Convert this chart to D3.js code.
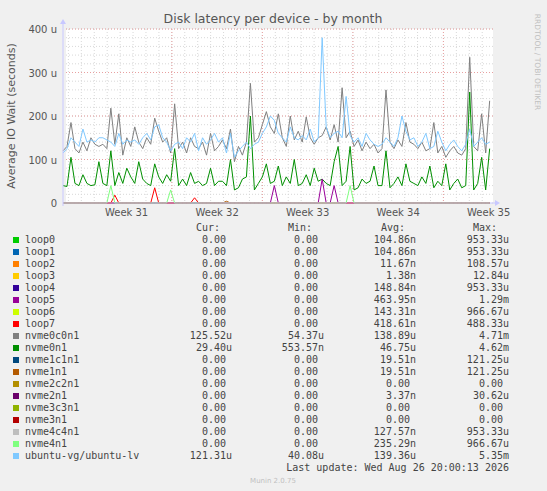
<!DOCTYPE html>
<html>
<head>
<meta charset="utf-8">
<script src="https://cdn.jsdelivr.net/npm/d3@7"></script>
<style>
  body { margin: 0; background: #f0f0f0; }
  text { font-family: "DejaVu Sans", sans-serif; }
  .mono { font-family: "DejaVu Sans Mono", monospace; font-size: 10px; fill: #444; }
</style>
</head>
<body>
<div class="canva"></div>
<script>
// latency samples, in microseconds, one every ~7.4 hours starting Jul 25
const startTime = new Date(2026, 6, 25, 14, 0);
const stepHours = 7.4;

const nvme0c0n1 = [
  120,130,185,125,115,140,120,150,135,130,
  135,125,218,135,205,110,150,130,175,140,
  125,150,135,195,165,140,150,115,228,125,
  140,115,150,130,125,140,110,160,120,130,
  145,125,170,95,130,110,140,275,140,150,
  180,210,175,160,205,150,130,200,145,165,
  140,198,150,135,150,155,175,145,180,140,
  265,150,165,130,145,120,140,125,135,115,
  125,260,140,125,145,130,185,140,135,125,
  140,120,125,185,115,130,105,120,130,115,
  110,125,335,130,120,205,115,235];

const ubuntuLv = [
  115,125,150,140,130,170,140,145,140,150,
  150,145,140,130,160,135,145,140,145,135,
  150,160,145,175,180,150,140,120,135,140,
  125,150,140,160,120,150,135,145,160,140,
  150,115,160,105,120,130,140,125,135,140,
  160,175,200,190,160,150,140,175,150,145,
  155,145,170,140,150,380,175,150,160,165,
  150,245,155,140,150,130,160,145,135,130,
  135,150,140,130,150,200,165,145,150,130,
  140,160,125,130,165,140,120,135,145,130,
  120,135,170,130,140,150,135,140];

const nvme0n1 = [
  40,38,105,45,40,65,45,40,42,95,
  45,40,120,40,70,45,80,60,45,95,
  55,45,40,90,60,45,65,50,125,40,
  55,40,70,45,50,40,45,80,40,50,
  50,40,100,30,35,55,60,200,30,45,
  60,90,45,50,85,40,60,45,100,40,
  45,65,40,80,50,55,45,40,95,130,
  40,50,130,30,35,55,45,50,85,40,
  40,120,35,45,60,40,90,50,45,40,
  60,45,85,35,50,40,90,30,45,55,
  35,40,255,30,45,105,30,125];

// sparse spikes: [sample index, value]
const loop7Spikes = [[13, 18], [23, 35], [33, 12]];
const loop5Spikes = [[53, 40], [65, 55], [68, 40]];
const nvme4n1Spikes = [[12, 40], [27, 30], [72, 40]];
const nvme1n1Spikes = [[41, 4]];

const names = ["loop0","loop1","loop2","loop3","loop4","loop5","loop6","loop7",
  "nvme0c0n1","nvme0n1","nvme1c1n1","nvme1n1","nvme2c2n1","nvme2n1",
  "nvme3c3n1","nvme3n1","nvme4c4n1","nvme4n1","ubuntu-vg/ubuntu-lv"];
const colors = ["#00cc00","#0066b3","#ff8000","#ffcc00","#330099","#990099","#ccff00","#ff0000",
  "#808080","#008f00","#00487d","#b35a00","#b38f00","#6b006b","#8fb300","#b30000",
  "#bebebe","#80ff80","#80c9ff"];
const curVals = ["0.00","0.00","0.00","0.00","0.00","0.00","0.00","0.00","125.52u","29.40u",
  "0.00","0.00","0.00","0.00","0.00","0.00","0.00","0.00","121.31u"];
const minVals = ["0.00","0.00","0.00","0.00","0.00","0.00","0.00","0.00","54.37u","553.57n",
  "0.00","0.00","0.00","0.00","0.00","0.00","0.00","0.00","40.08u"];
const avgVals = ["104.86n","104.86n","11.67n","1.38n","148.84n","463.95n","143.31n","418.61n",
  "138.89u","46.75u","19.51n","19.51n","0.00","3.37n","0.00","0.00","127.57n","235.29n","139.36u"];
const maxVals = ["953.33u","953.33u","108.57u","12.84u","953.33u","1.29m","966.67u","488.33u",
  "4.71m","4.62m","121.25u","121.25u","0.00","30.62u","0.00","0.00","953.33u","966.67u","5.35m"];
const yTicks = [0, 100, 200, 300, 400];
const weekLabels = ["Week 31","Week 32","Week 33","Week 34","Week 35"];
const weekStarts = [new Date(2026,6,27), new Date(2026,7,3), new Date(2026,7,10),
  new Date(2026,7,17), new Date(2026,7,24)];

const svg = d3.select('.canva').append('svg')
  .attr('width', 547).attr('height', 491);
svg.append('rect').attr('width', 547).attr('height', 491).attr('fill', '#f0f0f0');

const pLeft = 66, pRight = 493, pTop = 29, pBottom = 203;
const n = nvme0c0n1.length;
const timeAt = i => new Date(startTime.getTime() + i * stepHours * 3600e3);
const x = d3.scaleTime()
  .domain([new Date(2026,6,25,14,0), new Date(2026,7,27,20,0)])
  .range([pLeft - 3, pRight]);
const y = d3.scaleLinear().domain([0, 400]).range([pBottom, pTop]);

svg.append('rect').attr('x', pLeft).attr('y', pTop).attr('width', pRight - pLeft)
  .attr('height', pBottom - pTop).attr('fill', '#ffffff');

// minor grid
const days = d3.timeDay.range(x.domain()[0], x.domain()[1]);
svg.selectAll('.vmin').data(days).enter().append('line')
  .attr('x1', d => x(d)).attr('x2', d => x(d)).attr('y1', pTop).attr('y2', pBottom)
  .attr('stroke', '#d8d8d8').attr('stroke-dasharray', '1,2');
svg.selectAll('.hmin').data(d3.range(0, 401, 20)).enter().append('line')
  .attr('x1', pLeft).attr('x2', pRight).attr('y1', d => y(d)).attr('y2', d => y(d))
  .attr('stroke', '#d8d8d8').attr('stroke-dasharray', '1,2');
// major grid
svg.selectAll('.vmaj').data(weekStarts.slice(1)).enter().append('line')
  .attr('x1', d => x(d)).attr('x2', d => x(d)).attr('y1', pTop).attr('y2', pBottom)
  .attr('stroke', '#e8a0a0').attr('stroke-dasharray', '1,2');
svg.selectAll('.hmaj').data(yTicks.slice(1)).enter().append('line')
  .attr('x1', pLeft).attr('x2', pRight).attr('y1', d => y(d)).attr('y2', d => y(d))
  .attr('stroke', '#e8a0a0').attr('stroke-dasharray', '1,2');

const line = d3.line().x((d, i) => x(timeAt(i))).y(d => y(d));
const fromSpikes = sp => {
  const arr = new Array(n).fill(0);
  sp.forEach(([i, v]) => arr[i] = v);
  return arr;
};
const zeroSeries = new Array(n).fill(0);

// zero-valued devices lie on the baseline
[0,1,2,3,4,6,10,12,13,14,15,16].forEach(k => {
  svg.append('path').datum(zeroSeries).attr('d', line)
    .attr('fill', 'none').attr('stroke', colors[k]).attr('stroke-width', 1);
});
const series = [
  [nvme0c0n1, 8], [nvme0n1, 9], [fromSpikes(nvme1n1Spikes), 11],
  [fromSpikes(loop5Spikes), 5], [fromSpikes(loop7Spikes), 7],
  [fromSpikes(nvme4n1Spikes), 17], [ubuntuLv, 18]
];
series.forEach(([vals, k]) => {
  svg.append('path').datum(vals).attr('d', line)
    .attr('fill', 'none').attr('stroke', colors[k]).attr('stroke-width', 1);
});

// axes
svg.append('line').attr('x1', pLeft - 3).attr('x2', pRight + 4).attr('y1', pBottom).attr('y2', pBottom)
  .attr('stroke', '#c8c8ff');
svg.append('path').attr('d', `M${pRight+2},${pBottom-3}L${pRight+7},${pBottom}L${pRight+2},${pBottom+3}Z`).attr('fill', '#c8c8ff');
svg.append('line').attr('x1', pLeft - 3).attr('x2', pLeft - 3).attr('y1', pBottom + 3).attr('y2', pTop - 7)
  .attr('stroke', '#c8c8ff');
svg.append('path').attr('d', `M${pLeft-6},${pTop-5}L${pLeft-3},${pTop-10}L${pLeft},${pTop-5}Z`).attr('fill', '#c8c8ff');

svg.selectAll('.yt').data(yTicks).enter().append('text')
  .attr('x', 57).attr('y', d => y(d) + 4).attr('text-anchor', 'end')
  .attr('font-size', 10).attr('fill', '#555').text(d => d === 0 ? '0' : d + ' u');
svg.selectAll('.xt').data(weekLabels).enter().append('text')
  .attr('x', (d, i) => x(new Date(weekStarts[i].getTime() + 3.5 * 86400e3)))
  .attr('y', 216).attr('text-anchor', 'middle')
  .attr('font-size', 10).attr('fill', '#555').text(d => d);

svg.append('text').attr('x', 273).attr('y', 23).attr('text-anchor', 'middle')
  .attr('font-size', 12.5).attr('fill', '#555').text('Disk latency per device - by month');
svg.append('text').attr('transform', 'translate(15,116) rotate(-90)').attr('text-anchor', 'middle')
  .attr('font-size', 11).attr('fill', '#555').text('Average IO Wait (seconds)');
svg.append('text').attr('transform', 'translate(535,62) rotate(90)').attr('text-anchor', 'middle')
  .attr('font-size', 7.5).attr('fill', '#c0c0c0').text('RRDTOOL / TOBI OETIKER');

// legend
const hdr = [["Cur:", 220], ["Min:", 312], ["Avg:", 405], ["Max:", 497]];
hdr.forEach(([t, xx]) => svg.append('text').attr('class', 'mono')
  .attr('x', xx).attr('y', 231).attr('text-anchor', 'end').text(t));
const rows = svg.selectAll('.row').data(names).enter().append('g')
  .attr('transform', (d, i) => `translate(0,${243 + i * 12})`);
rows.append('rect').attr('x', 13).attr('y', -6).attr('width', 6).attr('height', 6)
  .attr('fill', (d, i) => colors[i]);
rows.append('text').attr('class', 'mono').attr('x', 25).attr('y', 0).text(d => d);
const cols = [[curVals, 232], [minVals, 324], [avgVals, 416], [maxVals, 509]];
cols.forEach(([vals, xx]) => {
  rows.append('text').attr('class', 'mono').attr('x', (d, i) => /[unm]$/.test(vals[i]) ? xx : xx - 6)
    .attr('y', 0).attr('text-anchor', 'end').text((d, i) => vals[i]);
});
svg.append('text').attr('class', 'mono').attr('x', 509).attr('y', 471).attr('text-anchor', 'end')
  .text('Last update: Wed Aug 26 20:00:13 2026');
svg.append('text').attr('x', 273).attr('y', 483).attr('text-anchor', 'middle')
  .attr('font-size', 7).attr('fill', '#c0c0c0').text('Munin 2.0.75');
</script>
</body>
</html>
